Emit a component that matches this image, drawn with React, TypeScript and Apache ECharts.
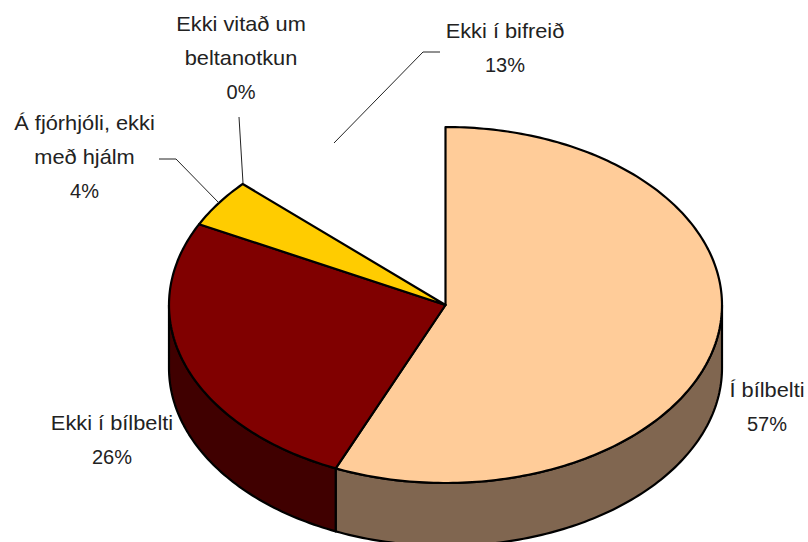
import React, { useEffect, useRef } from "react";
import * as echarts from "echarts";

const names = ["Í bílbelti", "Ekki í bílbelti", "Á fjórhjóli, ekki með hjálm", "Ekki vitað um beltanotkun", "Ekki í bifreið"];
const values = [56.5, 26, 4.4, 0.2, 12.9];
const percentLabels = ["57%", "26%", "4%", "0%", "13%"];
const labelLines = [
  ["Í bílbelti"],
  ["Ekki í bílbelti"],
  ["Á fjórhjóli, ekki", "með hjálm"],
  ["Ekki vitað um", "beltanotkun"],
  ["Ekki í bifreið"],
];
const topColors = ["#FFCC99", "#800000", "#FFCC00", "#FFFFFF", "#FFFFFF"];
const sideColors = ["#806650", "#400000", "#806600", "#808080", "#808080"];

const CX = 445.5, CY = 305, RX = 276.5, RY = 178, DEPTH = 63, LINE = 34;
const total = values.reduce((a, b) => a + b, 0);
const labelPos: [number, number][] = [[767, 390], [112, 423], [84.5, 123], [241, 24], [505, 31]];
const leaders: ([number, number][] | null)[] = [
  null,
  null,
  [[159, 159], [176, 159], [219, 203]],
  [[239, 117], [243, 183]],
  [[440, 52], [423, 52], [334, 143]],
];

const pt = (deg: number, dy = 0): [number, number] => {
  const a = (deg * Math.PI) / 180;
  return [CX + RX * Math.sin(a), CY - RY * Math.cos(a) + dy];
};

function arc(a0: number, a1: number, dy = 0) {
  const out: [number, number][] = [];
  const n = Math.max(2, Math.ceil(Math.abs(a1 - a0)));
  for (let i = 0; i <= n; i++) out.push(pt(a0 + ((a1 - a0) * i) / n, dy));
  return out;
}

function textEl(text: string, x: number, y: number, scaleX: number) {
  return {
    type: "text",
    x,
    y,
    scaleX,
    z2: 5,
    style: {
      text,
      fill: "#222",
      font: '20px "Liberation Sans", Arial, sans-serif',
      align: "center",
      verticalAlign: "middle",
    },
    silent: true,
  };
}

function renderItem(params: any, api: any) {
  const i = params.dataIndex;
  const start = (values.slice(0, i).reduce((a, b) => a + b, 0) / total) * 360;
  const end = start + (api.value(0) / total) * 360;
  const children: any[] = [];
  const hasBorder = i !== 3 && i !== 4;
  const s0 = Math.max(start, 90), s1 = Math.min(end, 270);
  if (s1 > s0) {
    children.push({
      type: "polygon",
      z2: 1,
      shape: { points: [...arc(s0, s1), ...arc(s1, s0, DEPTH)] },
      style: { fill: sideColors[i], stroke: "#000", lineWidth: 2.2, lineJoin: "round" },
      silent: true,
    });
  }
  children.push({
    type: "polygon",
    z2: hasBorder ? 2 : 0,
    shape: { points: [[CX, CY], ...arc(start, end)] },
    style: { fill: topColors[i], stroke: hasBorder ? "#000" : "none", lineWidth: 2.2, lineJoin: "round" },
    silent: true,
  });
  if (leaders[i]) {
    children.push({
      type: "polyline",
      z2: 3,
      shape: { points: leaders[i] },
      style: { fill: "none", stroke: "#222", lineWidth: 1 },
      silent: true,
    });
  }
  const [lx, ly] = labelPos[i];
  labelLines[i].forEach((line, k) => children.push(textEl(line, lx, ly + k * LINE, 1.09)));
  children.push(textEl(percentLabels[i], lx, ly + labelLines[i].length * LINE, 1));
  return { type: "group", children };
}

export default function App() {
  const ref = useRef<HTMLDivElement>(null);
  useEffect(() => {
    const chart = echarts.init(ref.current!, undefined, { renderer: "svg" });
    chart.setOption({
      animation: false,
      backgroundColor: "#fff",
      series: [
        {
          type: "custom",
          coordinateSystem: "none",
          renderItem,
          data: values.map((v, i) => ({ name: names[i], value: [v] })),
        },
      ],
    });
    return () => chart.dispose();
  }, []);
  return <div ref={ref} style={{ position: "absolute", left: 0, top: 0, width: 808, height: 542 }} />;
}
